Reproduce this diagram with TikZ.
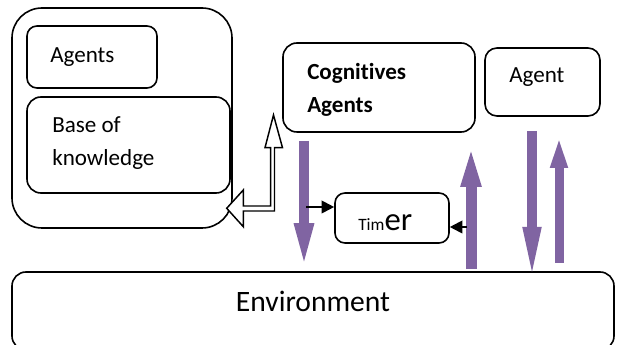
\documentclass[tikz,border=0pt]{standalone}
\usepackage{fontspec}
\setmainfont{Carlito}[Ligatures=NoCommon]
\usetikzlibrary{arrows.meta}
\definecolor{ppl}{HTML}{8064A2}
\begin{document}
\begin{tikzpicture}[x=0.75pt,y=-0.75pt,
  box/.style={draw, line width=1.2pt, rounded corners=#1, inner sep=0pt},
  lbl/.style={anchor=base west, inner sep=0pt, font=\fontsize{17.3}{20}\selectfont},
  parrow/.style={draw=ppl, line width=#1},
  barrow/.style={draw=black, line width=1.5pt, -{Triangle[length=9.5pt,width=9.5pt]}}]
\useasboundingbox (0,0) rectangle (619,345);
% boxes
\node[box=22.5pt, minimum width=165pt, minimum height=165pt] (outer) at (122,118) {};
\node[box=7.5pt, minimum width=97.5pt, minimum height=46.5pt] (agents) at (92,57) {};
\node[box=10.5pt, minimum width=152.25pt, minimum height=72pt] (kb) at (128.5,145) {};
\node[box=10.5pt, minimum width=144pt, minimum height=66.75pt] (cog) at (379,87.5) {};
\node[box=9pt, minimum width=86.25pt, minimum height=51pt] (agent) at (542.5,82) {};
\node[box=7.5pt, minimum width=85.5pt, minimum height=37.5pt] (timer) at (392,218) {};
\node[box=10.5pt, minimum width=451.5pt, minimum height=58.5pt] (env) at (313,311) {};
% labels
\node[lbl] (tagents) at (50,63) {Agents};
\node[lbl] (tbase) at (52,133) {Base of};
\node[lbl] (tknow) at (52,166) {knowledge};
\node[lbl, font=\fontsize{17.3}{20}\selectfont\bfseries] (tcog) at (307,80) {Cognitives};
\node[lbl, font=\fontsize{17.3}{20}\selectfont\bfseries] (tcog2) at (307,113) {Agents};
\node[lbl] (tagent) at (509,83) {Agent};
\node[anchor=base, inner sep=0pt, font=\fontsize{22.2}{26}\selectfont] (tenv) at (313,312) {Environment};
\node[anchor=base west, inner sep=0pt] (ttimer) at (358,231) {{\fontsize{13}{15}\selectfont Tim}{\fontsize{24.5}{28}\selectfont er}};
% hollow arrow
\draw[line width=1.1pt, fill=white, line join=miter]
  (226.7,208.3) -- (243.3,190) -- (243.3,206) -- (270.7,206) -- (270.7,147.7)
  -- (265,147.7) -- (273.5,115) -- (282.5,147.7) -- (274.5,147.7) -- (274.5,211)
  -- (243.3,211) -- (243.3,226.7) -- cycle;
% purple arrows
\coordinate (a1s) at (304,141);
\coordinate (a2e) at (471,138);
\coordinate (a3s) at (532,131);
\coordinate (a3e) at (532,283);
\coordinate (a4s) at (559,263);
\coordinate (a4e) at (559,134);
\draw[parrow=7.5pt, -{Triangle[length=36pt,width=12.75pt]}] (a1s) -- (a1s |- env.north);
\draw[parrow=8.25pt, -{Triangle[length=36.75pt,width=12.75pt]}] ([yshift=1.5pt]a2e |- env.north) -- (a2e);
\draw[parrow=7.1pt, -{Triangle[length=42pt,width=12pt]}] (a3s) -- (a3e);
\draw[parrow=6.75pt, -{Triangle[length=25.5pt,width=11.25pt]}] (a4s) -- (a4e);
% black arrows
\coordinate (b1s) at (306,207);
\coordinate (b2s) at (467,227);
\draw[barrow] (b1s) -- (timer.west |- b1s);
\draw[barrow] (b2s) -- (timer.east |- b2s);
\end{tikzpicture}
\end{document}
